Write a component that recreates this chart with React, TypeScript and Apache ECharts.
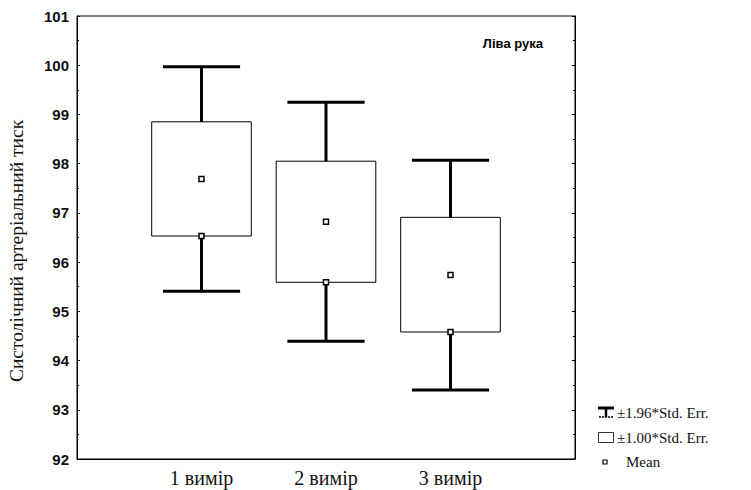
import React, { useEffect, useRef } from "react";
import * as echarts from "echarts";

const categories = ["1 вимір", "2 вимір", "3 вимір"];
const positions = [1, 2, 3];
const meanValues = [97.69, 96.82, 95.74];
const boxLow = [96.53, 95.59, 94.58];
const boxHigh = [98.85, 98.05, 96.91];
const whiskerLow = [95.41, 94.39, 93.4];
const whiskerHigh = [99.97, 99.25, 98.07];
const yTicks = { min: 92, max: 101, interval: 1 };

const seriesData = positions.map((p, i) => [
  p,
  meanValues[i],
  boxLow[i],
  boxHigh[i],
  whiskerLow[i],
  whiskerHigh[i],
]);

export default function App() {
  const ref = useRef<HTMLDivElement>(null);
  useEffect(() => {
    if (!ref.current) return;
    const chart = echarts.init(ref.current, null, { renderer: "svg" });
    const serif = "'Liberation Serif', 'DejaVu Serif', serif";
    const sans = "'Liberation Sans', Arial, sans-serif";
    chart.setOption({
      animation: false,
      backgroundColor: "#ffffff",
      grid: {
        left: 77,
        top: 16,
        right: 176,
        bottom: 31,
        show: true,
        borderColor: "#000",
        borderWidth: 1,
        backgroundColor: "transparent",
      },
      xAxis: {
        type: "value",
        min: 0,
        max: 4,
        interval: 1,
        axisLine: { show: true, lineStyle: { color: "#000", width: 1 } },
        axisTick: { show: false },
        splitLine: { show: false },
        axisLabel: {
          margin: 9,
          color: "#111",
          fontFamily: serif,
          fontSize: 20,
          formatter: (v: number) => {
            const idx = positions.indexOf(v);
            return idx >= 0 ? categories[idx] : "";
          },
        },
      },
      yAxis: [
        {
          type: "value",
          min: yTicks.min,
          max: yTicks.max,
          interval: yTicks.interval,
          position: "left",
          axisLine: { show: true, lineStyle: { color: "#000", width: 1 } },
          axisTick: { show: true, inside: true, length: 3, lineStyle: { color: "#000" } },
          minorTick: { show: true, splitNumber: 2, length: 2, lineStyle: { color: "#000" } },
          splitLine: { show: false },
          axisLabel: {
            margin: 8,
            color: "#111",
            fontFamily: sans,
            fontWeight: "bold",
            fontSize: 15,
          },
        },
        {
          type: "value",
          min: yTicks.min,
          max: yTicks.max,
          interval: yTicks.interval,
          position: "right",
          axisLine: { show: true, lineStyle: { color: "#000", width: 1 } },
          axisTick: { show: true, inside: true, length: 3, lineStyle: { color: "#000" } },
          minorTick: { show: true, splitNumber: 2, length: 2, lineStyle: { color: "#000" } },
          splitLine: { show: false },
          axisLabel: { show: false },
        },
      ],
      series: [
        {
          type: "custom",
          xAxisIndex: 0,
          yAxisIndex: 0,
          data: seriesData,
          renderItem: (params: any, api: any) => {
            const x = api.value(0);
            const mean = api.value(1);
            const bl = api.value(2);
            const bh = api.value(3);
            const wl = api.value(4);
            const wh = api.value(5);
            const boxL = api.coord([x - 0.4, bh]);
            const boxR = api.coord([x + 0.4, bl]);
            const c = api.coord([x, mean]);
            const pBh = api.coord([x, bh]);
            const pBl = api.coord([x, bl]);
            const pWh = api.coord([x, wh]);
            const pWl = api.coord([x, wl]);
            const capL = api.coord([x - 0.31, wh])[0];
            const capR = api.coord([x + 0.31, wh])[0];
            const thick = { stroke: "#000", lineWidth: 3 };
            return {
              type: "group",
              children: [
                {
                  type: "rect",
                  shape: {
                    x: boxL[0],
                    y: boxL[1],
                    width: boxR[0] - boxL[0],
                    height: boxR[1] - boxL[1],
                  },
                  style: { fill: "#fff", stroke: "#000", lineWidth: 1 },
                },
                {
                  type: "line",
                  shape: { x1: pBh[0], y1: pBh[1], x2: pWh[0], y2: pWh[1] },
                  style: thick,
                },
                {
                  type: "line",
                  shape: { x1: pBl[0], y1: pBl[1], x2: pWl[0], y2: pWl[1] },
                  style: thick,
                },
                {
                  type: "line",
                  shape: { x1: capL, y1: pWh[1], x2: capR, y2: pWh[1] },
                  style: thick,
                },
                {
                  type: "line",
                  shape: { x1: capL, y1: pWl[1], x2: capR, y2: pWl[1] },
                  style: thick,
                },
                {
                  type: "rect",
                  shape: { x: pBl[0] - 2.5, y: pBl[1] - 2.5, width: 5, height: 5 },
                  style: { fill: "#fff", stroke: "#000", lineWidth: 1.5 },
                },
                {
                  type: "rect",
                  shape: { x: c[0] - 2.5, y: c[1] - 2.5, width: 5, height: 5 },
                  style: { fill: "#fff", stroke: "#000", lineWidth: 1.5 },
                },
              ],
            };
          },
        },
      ],
      graphic: [
        {
          type: "text",
          x: 16,
          y: 251,
          rotation: Math.PI / 2,
          style: {
            text: "Систолічний артеріальний тиск",
            fontFamily: serif,
            fontSize: 19.5,
            fill: "#111",
            align: "center",
            verticalAlign: "middle",
          },
        },
        {
          type: "text",
          x: 543,
          y: 43,
          style: {
            text: "Ліва рука",
            fontFamily: sans,
            fontSize: 13,
            fontWeight: "bold",
            fill: "#000",
            align: "right",
            verticalAlign: "middle",
          },
        },
        // legend
        { type: "line", shape: { x1: 598, y1: 408, x2: 614, y2: 408 }, style: { stroke: "#000", lineWidth: 3 } },
        { type: "line", shape: { x1: 606, y1: 408, x2: 606, y2: 417 }, style: { stroke: "#000", lineWidth: 2.5 } },
        { type: "line", shape: { x1: 599, y1: 417, x2: 613, y2: 417 }, style: { stroke: "#000", lineWidth: 1.5, lineDash: [2, 1] } },
        {
          type: "text",
          x: 617,
          y: 413,
          style: { text: "±1.96*Std. Err.", fontFamily: serif, fontSize: 15, fill: "#111", verticalAlign: "middle" },
        },
        { type: "rect", shape: { x: 598.5, y: 432.5, width: 15, height: 10 }, style: { fill: "#fff", stroke: "#000", lineWidth: 0.8 } },
        {
          type: "text",
          x: 617,
          y: 438,
          style: { text: "±1.00*Std. Err.", fontFamily: serif, fontSize: 15, fill: "#111", verticalAlign: "middle" },
        },
        { type: "rect", shape: { x: 603, y: 460, width: 4, height: 4 }, style: { fill: "#fff", stroke: "#000", lineWidth: 1.2 } },
        {
          type: "text",
          x: 626,
          y: 462,
          style: { text: "Mean", fontFamily: serif, fontSize: 15, fill: "#111", verticalAlign: "middle" },
        },
      ],
    });
    return () => chart.dispose();
  }, []);
  return (
    <div
      ref={ref}
      style={{ position: "fixed", left: 0, top: 0, width: 751, height: 490 }}
    />
  );
}
